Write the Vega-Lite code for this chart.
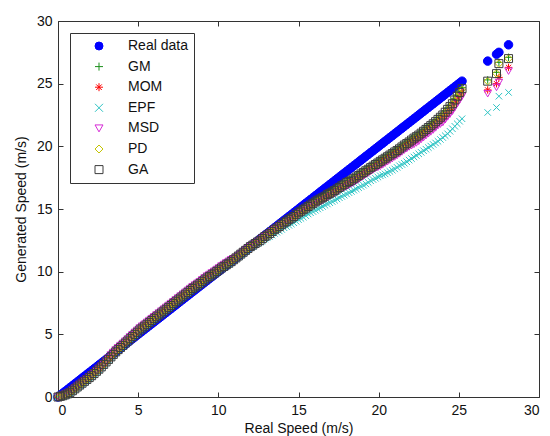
{
  "$schema": "https://vega.github.io/schema/vega-lite/v6.json",
  "width": 481,
  "height": 376,
  "autosize": {"type": "none"},
  "padding": {"left": 58, "top": 21, "right": 11, "bottom": 39},
  "background": "white",
  "config": {
    "view": {"stroke": "#333", "strokeWidth": 1},
    "font": "Liberation Sans",
    "axis": {"labelFont": "Liberation Sans", "titleFont": "Liberation Sans", "labelFontSize": 14, "titleFontSize": 14, "titleFontWeight": "normal", "labelColor": "#111", "titleColor": "#111", "tickColor": "#333", "grid": false, "domain": false},
    "legend": {"labelFont": "Liberation Sans", "labelFontSize": 14, "labelColor": "#111", "strokeColor": "#333", "fillColor": "white", "padding": 6, "rowPadding": 6.6, "symbolSize": 64, "symbolStrokeWidth": 1, "labelOffset": 22, "symbolOffset": 16, "orient": "none", "legendX": 12, "legendY": 12, "title": null}
  },
  "resolve": {"axis": {"x": "independent", "y": "independent"}},
  "layer": [
    {
      "data": {"values": [
        {"x":0,"Real data":0,"GM":0,"MOM":0,"EPF":0,"MSD":0,"PD":0,"GA":0},
        {"x":0.3,"Real data":0.3,"GM":0.15,"MOM":0.12,"EPF":0.05,"MSD":0.15,"PD":0.1,"GA":0.1},
        {"x":0.6,"Real data":0.6,"GM":0.3,"MOM":0.27,"EPF":0.2,"MSD":0.3,"PD":0.25,"GA":0.25},
        {"x":0.9,"Real data":0.9,"GM":0.55,"MOM":0.52,"EPF":0.45,"MSD":0.55,"PD":0.5,"GA":0.5},
        {"x":1.2,"Real data":1.2,"GM":0.85,"MOM":0.82,"EPF":0.75,"MSD":0.85,"PD":0.8,"GA":0.8},
        {"x":1.5,"Real data":1.5,"GM":1.15,"MOM":1.12,"EPF":1.05,"MSD":1.15,"PD":1.1,"GA":1.1},
        {"x":1.8,"Real data":1.8,"GM":1.45,"MOM":1.42,"EPF":1.35,"MSD":1.45,"PD":1.4,"GA":1.4},
        {"x":2.1,"Real data":2.1,"GM":1.75,"MOM":1.72,"EPF":1.65,"MSD":1.75,"PD":1.7,"GA":1.7},
        {"x":2.4,"Real data":2.4,"GM":2.1,"MOM":2.07,"EPF":2.0,"MSD":2.1,"PD":2.05,"GA":2.05},
        {"x":2.7,"Real data":2.7,"GM":2.45,"MOM":2.42,"EPF":2.35,"MSD":2.45,"PD":2.4,"GA":2.4},
        {"x":3.0,"Real data":3.0,"GM":2.85,"MOM":2.82,"EPF":2.75,"MSD":2.85,"PD":2.8,"GA":2.8},
        {"x":3.3,"Real data":3.3,"GM":3.25,"MOM":3.27,"EPF":3.15,"MSD":3.35,"PD":3.2,"GA":3.2},
        {"x":3.6,"Real data":3.6,"GM":3.65,"MOM":3.67,"EPF":3.55,"MSD":3.75,"PD":3.6,"GA":3.6},
        {"x":3.9,"Real data":3.9,"GM":4.0,"MOM":4.02,"EPF":3.9,"MSD":4.1,"PD":3.95,"GA":3.95},
        {"x":4.2,"Real data":4.2,"GM":4.35,"MOM":4.37,"EPF":4.25,"MSD":4.45,"PD":4.3,"GA":4.3},
        {"x":4.5,"Real data":4.5,"GM":4.7,"MOM":4.72,"EPF":4.6,"MSD":4.8,"PD":4.65,"GA":4.65},
        {"x":4.8,"Real data":4.8,"GM":5.05,"MOM":5.07,"EPF":4.95,"MSD":5.15,"PD":5.0,"GA":5.0},
        {"x":5.1,"Real data":5.1,"GM":5.4,"MOM":5.42,"EPF":5.3,"MSD":5.5,"PD":5.35,"GA":5.35},
        {"x":5.4,"Real data":5.4,"GM":5.7,"MOM":5.72,"EPF":5.6,"MSD":5.8,"PD":5.65,"GA":5.65},
        {"x":5.7,"Real data":5.7,"GM":6.0,"MOM":6.02,"EPF":5.9,"MSD":6.1,"PD":5.95,"GA":5.95},
        {"x":6.0,"Real data":6.0,"GM":6.3,"MOM":6.32,"EPF":6.2,"MSD":6.4,"PD":6.25,"GA":6.25},
        {"x":6.3,"Real data":6.3,"GM":6.6,"MOM":6.62,"EPF":6.5,"MSD":6.7,"PD":6.55,"GA":6.55},
        {"x":6.6,"Real data":6.6,"GM":6.9,"MOM":6.92,"EPF":6.8,"MSD":7.0,"PD":6.85,"GA":6.85},
        {"x":6.9,"Real data":6.9,"GM":7.2,"MOM":7.22,"EPF":7.1,"MSD":7.3,"PD":7.15,"GA":7.15},
        {"x":7.2,"Real data":7.2,"GM":7.5,"MOM":7.52,"EPF":7.4,"MSD":7.6,"PD":7.45,"GA":7.45},
        {"x":7.5,"Real data":7.5,"GM":7.8,"MOM":7.82,"EPF":7.7,"MSD":7.9,"PD":7.75,"GA":7.75},
        {"x":7.8,"Real data":7.8,"GM":8.1,"MOM":8.12,"EPF":8.0,"MSD":8.2,"PD":8.05,"GA":8.05},
        {"x":8.1,"Real data":8.1,"GM":8.4,"MOM":8.42,"EPF":8.3,"MSD":8.5,"PD":8.35,"GA":8.35},
        {"x":8.4,"Real data":8.4,"GM":8.7,"MOM":8.72,"EPF":8.6,"MSD":8.8,"PD":8.65,"GA":8.65},
        {"x":8.7,"Real data":8.7,"GM":8.97,"MOM":9.0,"EPF":8.87,"MSD":9.07,"PD":8.92,"GA":8.92},
        {"x":9.0,"Real data":9.0,"GM":9.25,"MOM":9.27,"EPF":9.15,"MSD":9.35,"PD":9.2,"GA":9.2},
        {"x":9.3,"Real data":9.3,"GM":9.55,"MOM":9.57,"EPF":9.45,"MSD":9.65,"PD":9.5,"GA":9.5},
        {"x":9.6,"Real data":9.6,"GM":9.8,"MOM":9.82,"EPF":9.7,"MSD":9.9,"PD":9.75,"GA":9.75},
        {"x":9.9,"Real data":9.9,"GM":10.07,"MOM":10.1,"EPF":9.97,"MSD":10.17,"PD":10.02,"GA":10.02},
        {"x":10.2,"Real data":10.2,"GM":10.35,"MOM":10.37,"EPF":10.25,"MSD":10.45,"PD":10.3,"GA":10.3},
        {"x":10.5,"Real data":10.5,"GM":10.6,"MOM":10.62,"EPF":10.5,"MSD":10.7,"PD":10.55,"GA":10.55},
        {"x":10.8,"Real data":10.8,"GM":10.85,"MOM":10.87,"EPF":10.75,"MSD":10.95,"PD":10.8,"GA":10.8},
        {"x":11.1,"Real data":11.1,"GM":11.15,"MOM":11.1,"EPF":11.05,"MSD":11.1,"PD":11.1,"GA":11.1},
        {"x":11.4,"Real data":11.4,"GM":11.45,"MOM":11.4,"EPF":11.35,"MSD":11.4,"PD":11.4,"GA":11.4},
        {"x":11.7,"Real data":11.7,"GM":11.75,"MOM":11.7,"EPF":11.65,"MSD":11.7,"PD":11.7,"GA":11.7},
        {"x":12.0,"Real data":12.0,"GM":12.05,"MOM":12.0,"EPF":11.9,"MSD":12.0,"PD":12.0,"GA":12.0},
        {"x":12.3,"Real data":12.3,"GM":12.3,"MOM":12.25,"EPF":12.15,"MSD":12.25,"PD":12.25,"GA":12.25},
        {"x":12.6,"Real data":12.6,"GM":12.55,"MOM":12.5,"EPF":12.35,"MSD":12.5,"PD":12.5,"GA":12.5},
        {"x":12.9,"Real data":12.9,"GM":12.85,"MOM":12.8,"EPF":12.6,"MSD":12.8,"PD":12.8,"GA":12.8},
        {"x":13.2,"Real data":13.2,"GM":13.1,"MOM":13.05,"EPF":12.8,"MSD":13.05,"PD":13.05,"GA":13.05},
        {"x":13.5,"Real data":13.5,"GM":13.4,"MOM":13.35,"EPF":13.05,"MSD":13.35,"PD":13.35,"GA":13.35},
        {"x":13.8,"Real data":13.8,"GM":13.65,"MOM":13.6,"EPF":13.25,"MSD":13.6,"PD":13.6,"GA":13.6},
        {"x":14.1,"Real data":14.1,"GM":13.95,"MOM":13.85,"EPF":13.5,"MSD":13.8,"PD":13.9,"GA":13.9},
        {"x":14.4,"Real data":14.4,"GM":14.2,"MOM":14.1,"EPF":13.7,"MSD":14.05,"PD":14.15,"GA":14.15},
        {"x":14.7,"Real data":14.7,"GM":14.45,"MOM":14.35,"EPF":13.9,"MSD":14.3,"PD":14.4,"GA":14.4},
        {"x":15.0,"Real data":15.0,"GM":14.8,"MOM":14.65,"EPF":14.15,"MSD":14.6,"PD":14.65,"GA":14.7},
        {"x":15.3,"Real data":15.3,"GM":15.05,"MOM":14.9,"EPF":14.35,"MSD":14.85,"PD":14.9,"GA":14.95},
        {"x":15.6,"Real data":15.6,"GM":15.3,"MOM":15.15,"EPF":14.6,"MSD":15.1,"PD":15.15,"GA":15.2},
        {"x":15.9,"Real data":15.9,"GM":15.55,"MOM":15.4,"EPF":14.8,"MSD":15.35,"PD":15.4,"GA":15.45},
        {"x":16.2,"Real data":16.2,"GM":15.8,"MOM":15.6,"EPF":15.0,"MSD":15.5,"PD":15.65,"GA":15.7},
        {"x":16.5,"Real data":16.5,"GM":16.0,"MOM":15.8,"EPF":15.2,"MSD":15.7,"PD":15.85,"GA":15.9},
        {"x":16.8,"Real data":16.8,"GM":16.25,"MOM":16.05,"EPF":15.4,"MSD":15.95,"PD":16.1,"GA":16.15},
        {"x":17.1,"Real data":17.1,"GM":16.45,"MOM":16.25,"EPF":15.6,"MSD":16.15,"PD":16.3,"GA":16.35},
        {"x":17.4,"Real data":17.4,"GM":16.7,"MOM":16.5,"EPF":15.8,"MSD":16.4,"PD":16.55,"GA":16.6},
        {"x":17.7,"Real data":17.7,"GM":16.95,"MOM":16.75,"EPF":16.0,"MSD":16.65,"PD":16.8,"GA":16.85},
        {"x":18.0,"Real data":18.0,"GM":17.2,"MOM":16.95,"EPF":16.2,"MSD":16.8,"PD":17.05,"GA":17.1},
        {"x":18.3,"Real data":18.3,"GM":17.4,"MOM":17.15,"EPF":16.4,"MSD":17.0,"PD":17.25,"GA":17.3},
        {"x":18.6,"Real data":18.6,"GM":17.65,"MOM":17.4,"EPF":16.6,"MSD":17.25,"PD":17.5,"GA":17.55},
        {"x":18.9,"Real data":18.9,"GM":17.9,"MOM":17.65,"EPF":16.8,"MSD":17.5,"PD":17.75,"GA":17.8},
        {"x":19.2,"Real data":19.2,"GM":18.15,"MOM":17.9,"EPF":17.0,"MSD":17.75,"PD":18.0,"GA":18.05},
        {"x":19.5,"Real data":19.5,"GM":18.4,"MOM":18.15,"EPF":17.25,"MSD":18.0,"PD":18.25,"GA":18.3},
        {"x":19.8,"Real data":19.8,"GM":18.65,"MOM":18.4,"EPF":17.45,"MSD":18.25,"PD":18.5,"GA":18.55},
        {"x":20.1,"Real data":20.1,"GM":18.9,"MOM":18.6,"EPF":17.65,"MSD":18.4,"PD":18.75,"GA":18.8},
        {"x":20.4,"Real data":20.4,"GM":19.15,"MOM":18.85,"EPF":17.8,"MSD":18.65,"PD":19.0,"GA":19.05},
        {"x":20.7,"Real data":20.7,"GM":19.4,"MOM":19.1,"EPF":18.0,"MSD":18.9,"PD":19.25,"GA":19.3},
        {"x":21.0,"Real data":21.0,"GM":19.65,"MOM":19.35,"EPF":18.2,"MSD":19.15,"PD":19.5,"GA":19.55},
        {"x":21.3,"Real data":21.3,"GM":19.9,"MOM":19.6,"EPF":18.45,"MSD":19.4,"PD":19.75,"GA":19.8},
        {"x":21.6,"Real data":21.6,"GM":20.2,"MOM":19.9,"EPF":18.65,"MSD":19.7,"PD":20.05,"GA":20.1},
        {"x":21.9,"Real data":21.9,"GM":20.45,"MOM":20.15,"EPF":18.9,"MSD":19.95,"PD":20.3,"GA":20.35},
        {"x":22.2,"Real data":22.2,"GM":20.75,"MOM":20.4,"EPF":19.15,"MSD":20.15,"PD":20.6,"GA":20.65},
        {"x":22.5,"Real data":22.5,"GM":21.0,"MOM":20.65,"EPF":19.4,"MSD":20.4,"PD":20.85,"GA":20.9},
        {"x":22.8,"Real data":22.8,"GM":21.3,"MOM":20.95,"EPF":19.65,"MSD":20.7,"PD":21.15,"GA":21.2},
        {"x":23.1,"Real data":23.1,"GM":21.6,"MOM":21.25,"EPF":19.9,"MSD":21.0,"PD":21.45,"GA":21.5},
        {"x":23.4,"Real data":23.4,"GM":21.9,"MOM":21.55,"EPF":20.15,"MSD":21.3,"PD":21.75,"GA":21.8},
        {"x":23.7,"Real data":23.7,"GM":22.25,"MOM":21.9,"EPF":20.4,"MSD":21.65,"PD":22.1,"GA":22.15},
        {"x":24.0,"Real data":24.0,"GM":22.6,"MOM":22.2,"EPF":20.7,"MSD":21.9,"PD":22.45,"GA":22.5},
        {"x":24.3,"Real data":24.3,"GM":23.05,"MOM":22.65,"EPF":21.0,"MSD":22.35,"PD":22.9,"GA":22.95},
        {"x":24.6,"Real data":24.6,"GM":23.5,"MOM":23.1,"EPF":21.4,"MSD":22.8,"PD":23.35,"GA":23.4},
        {"x":24.9,"Real data":24.9,"GM":24.1,"MOM":23.7,"EPF":21.8,"MSD":23.4,"PD":23.95,"GA":24.0},
        {"x":25.2,"Real data":25.2,"GM":24.7,"MOM":24.3,"EPF":22.2,"MSD":24.0,"PD":24.55,"GA":24.6},
        {"x":26.8,"Real data":26.8,"GM":25.3,"MOM":24.5,"EPF":22.7,"MSD":24.2,"PD":25.2,"GA":25.2},
        {"x":27.35,"Real data":27.35,"GM":25.9,"MOM":25.0,"EPF":23.1,"MSD":24.7,"PD":25.8,"GA":25.8},
        {"x":27.5,"Real data":27.5,"GM":26.7,"MOM":25.5,"EPF":24.0,"MSD":25.1,"PD":26.6,"GA":26.6},
        {"x":28.1,"Real data":28.1,"GM":27.1,"MOM":26.3,"EPF":24.3,"MSD":26.0,"PD":27.0,"GA":27.0},
        {"x":0.15,"Real data":0.15,"GM":0.07,"MOM":0.06,"EPF":0.02,"MSD":0.07,"PD":0.05,"GA":0.05},
        {"x":0.45,"Real data":0.45,"GM":0.22,"MOM":0.2,"EPF":0.12,"MSD":0.22,"PD":0.17,"GA":0.17},
        {"x":0.75,"Real data":0.75,"GM":0.42,"MOM":0.4,"EPF":0.32,"MSD":0.42,"PD":0.37,"GA":0.37},
        {"x":1.05,"Real data":1.05,"GM":0.7,"MOM":0.67,"EPF":0.6,"MSD":0.7,"PD":0.65,"GA":0.65},
        {"x":1.35,"Real data":1.35,"GM":1.0,"MOM":0.97,"EPF":0.9,"MSD":1.0,"PD":0.95,"GA":0.95},
        {"x":1.65,"Real data":1.65,"GM":1.3,"MOM":1.27,"EPF":1.2,"MSD":1.3,"PD":1.25,"GA":1.25},
        {"x":1.95,"Real data":1.95,"GM":1.6,"MOM":1.57,"EPF":1.5,"MSD":1.6,"PD":1.55,"GA":1.55},
        {"x":2.25,"Real data":2.25,"GM":1.92,"MOM":1.9,"EPF":1.82,"MSD":1.92,"PD":1.87,"GA":1.87},
        {"x":2.55,"Real data":2.55,"GM":2.27,"MOM":2.25,"EPF":2.17,"MSD":2.27,"PD":2.22,"GA":2.22},
        {"x":2.85,"Real data":2.85,"GM":2.65,"MOM":2.62,"EPF":2.55,"MSD":2.65,"PD":2.6,"GA":2.6},
        {"x":3.15,"Real data":3.15,"GM":3.05,"MOM":3.05,"EPF":2.95,"MSD":3.1,"PD":3.0,"GA":3.0},
        {"x":3.45,"Real data":3.45,"GM":3.45,"MOM":3.47,"EPF":3.35,"MSD":3.55,"PD":3.4,"GA":3.4},
        {"x":3.75,"Real data":3.75,"GM":3.83,"MOM":3.85,"EPF":3.73,"MSD":3.93,"PD":3.78,"GA":3.78},
        {"x":4.05,"Real data":4.05,"GM":4.17,"MOM":4.2,"EPF":4.07,"MSD":4.27,"PD":4.12,"GA":4.12},
        {"x":4.35,"Real data":4.35,"GM":4.52,"MOM":4.55,"EPF":4.42,"MSD":4.62,"PD":4.47,"GA":4.47},
        {"x":4.65,"Real data":4.65,"GM":4.87,"MOM":4.9,"EPF":4.77,"MSD":4.97,"PD":4.82,"GA":4.82},
        {"x":4.95,"Real data":4.95,"GM":5.22,"MOM":5.25,"EPF":5.12,"MSD":5.32,"PD":5.17,"GA":5.17},
        {"x":5.25,"Real data":5.25,"GM":5.55,"MOM":5.57,"EPF":5.45,"MSD":5.65,"PD":5.5,"GA":5.5},
        {"x":5.55,"Real data":5.55,"GM":5.85,"MOM":5.87,"EPF":5.75,"MSD":5.95,"PD":5.8,"GA":5.8},
        {"x":5.85,"Real data":5.85,"GM":6.15,"MOM":6.17,"EPF":6.05,"MSD":6.25,"PD":6.1,"GA":6.1},
        {"x":6.15,"Real data":6.15,"GM":6.45,"MOM":6.47,"EPF":6.35,"MSD":6.55,"PD":6.4,"GA":6.4},
        {"x":6.45,"Real data":6.45,"GM":6.75,"MOM":6.77,"EPF":6.65,"MSD":6.85,"PD":6.7,"GA":6.7},
        {"x":6.75,"Real data":6.75,"GM":7.05,"MOM":7.07,"EPF":6.95,"MSD":7.15,"PD":7.0,"GA":7.0},
        {"x":7.05,"Real data":7.05,"GM":7.35,"MOM":7.37,"EPF":7.25,"MSD":7.45,"PD":7.3,"GA":7.3},
        {"x":7.35,"Real data":7.35,"GM":7.65,"MOM":7.67,"EPF":7.55,"MSD":7.75,"PD":7.6,"GA":7.6},
        {"x":7.65,"Real data":7.65,"GM":7.95,"MOM":7.97,"EPF":7.85,"MSD":8.05,"PD":7.9,"GA":7.9},
        {"x":7.95,"Real data":7.95,"GM":8.25,"MOM":8.27,"EPF":8.15,"MSD":8.35,"PD":8.2,"GA":8.2},
        {"x":8.25,"Real data":8.25,"GM":8.55,"MOM":8.57,"EPF":8.45,"MSD":8.65,"PD":8.5,"GA":8.5},
        {"x":8.55,"Real data":8.55,"GM":8.83,"MOM":8.85,"EPF":8.73,"MSD":8.93,"PD":8.78,"GA":8.78},
        {"x":8.85,"Real data":8.85,"GM":9.1,"MOM":9.12,"EPF":9.0,"MSD":9.2,"PD":9.05,"GA":9.05},
        {"x":9.15,"Real data":9.15,"GM":9.4,"MOM":9.42,"EPF":9.3,"MSD":9.5,"PD":9.35,"GA":9.35},
        {"x":9.45,"Real data":9.45,"GM":9.67,"MOM":9.7,"EPF":9.57,"MSD":9.77,"PD":9.62,"GA":9.62},
        {"x":9.75,"Real data":9.75,"GM":9.93,"MOM":9.95,"EPF":9.83,"MSD":10.03,"PD":9.88,"GA":9.88},
        {"x":10.05,"Real data":10.05,"GM":10.2,"MOM":10.22,"EPF":10.1,"MSD":10.3,"PD":10.15,"GA":10.15},
        {"x":10.35,"Real data":10.35,"GM":10.47,"MOM":10.5,"EPF":10.37,"MSD":10.57,"PD":10.42,"GA":10.42},
        {"x":10.65,"Real data":10.65,"GM":10.72,"MOM":10.75,"EPF":10.62,"MSD":10.82,"PD":10.67,"GA":10.67},
        {"x":10.95,"Real data":10.95,"GM":11.0,"MOM":10.98,"EPF":10.9,"MSD":11.02,"PD":10.95,"GA":10.95},
        {"x":11.25,"Real data":11.25,"GM":11.3,"MOM":11.25,"EPF":11.2,"MSD":11.25,"PD":11.25,"GA":11.25},
        {"x":11.55,"Real data":11.55,"GM":11.6,"MOM":11.55,"EPF":11.5,"MSD":11.55,"PD":11.55,"GA":11.55},
        {"x":11.85,"Real data":11.85,"GM":11.9,"MOM":11.85,"EPF":11.78,"MSD":11.85,"PD":11.85,"GA":11.85},
        {"x":12.15,"Real data":12.15,"GM":12.17,"MOM":12.12,"EPF":12.02,"MSD":12.12,"PD":12.12,"GA":12.12},
        {"x":12.45,"Real data":12.45,"GM":12.42,"MOM":12.37,"EPF":12.25,"MSD":12.37,"PD":12.37,"GA":12.37},
        {"x":12.75,"Real data":12.75,"GM":12.7,"MOM":12.65,"EPF":12.47,"MSD":12.65,"PD":12.65,"GA":12.65},
        {"x":13.05,"Real data":13.05,"GM":12.97,"MOM":12.92,"EPF":12.7,"MSD":12.92,"PD":12.92,"GA":12.92},
        {"x":13.35,"Real data":13.35,"GM":13.25,"MOM":13.2,"EPF":12.92,"MSD":13.2,"PD":13.2,"GA":13.2},
        {"x":13.65,"Real data":13.65,"GM":13.52,"MOM":13.47,"EPF":13.15,"MSD":13.47,"PD":13.47,"GA":13.47},
        {"x":13.95,"Real data":13.95,"GM":13.8,"MOM":13.72,"EPF":13.37,"MSD":13.7,"PD":13.75,"GA":13.75},
        {"x":14.25,"Real data":14.25,"GM":14.07,"MOM":13.97,"EPF":13.6,"MSD":13.92,"PD":14.02,"GA":14.02},
        {"x":14.55,"Real data":14.55,"GM":14.32,"MOM":14.22,"EPF":13.8,"MSD":14.17,"PD":14.27,"GA":14.27},
        {"x":14.85,"Real data":14.85,"GM":14.62,"MOM":14.5,"EPF":14.02,"MSD":14.45,"PD":14.52,"GA":14.55},
        {"x":15.15,"Real data":15.15,"GM":14.92,"MOM":14.77,"EPF":14.25,"MSD":14.72,"PD":14.77,"GA":14.82},
        {"x":15.45,"Real data":15.45,"GM":15.17,"MOM":15.02,"EPF":14.47,"MSD":14.97,"PD":15.02,"GA":15.07},
        {"x":15.75,"Real data":15.75,"GM":15.42,"MOM":15.27,"EPF":14.7,"MSD":15.22,"PD":15.27,"GA":15.32},
        {"x":16.05,"Real data":16.05,"GM":15.67,"MOM":15.5,"EPF":14.9,"MSD":15.42,"PD":15.52,"GA":15.57},
        {"x":16.35,"Real data":16.35,"GM":15.9,"MOM":15.7,"EPF":15.1,"MSD":15.6,"PD":15.75,"GA":15.8},
        {"x":16.65,"Real data":16.65,"GM":16.12,"MOM":15.92,"EPF":15.3,"MSD":15.82,"PD":15.97,"GA":16.02},
        {"x":16.95,"Real data":16.95,"GM":16.35,"MOM":16.15,"EPF":15.5,"MSD":16.05,"PD":16.2,"GA":16.25},
        {"x":17.25,"Real data":17.25,"GM":16.57,"MOM":16.37,"EPF":15.7,"MSD":16.27,"PD":16.42,"GA":16.47},
        {"x":17.55,"Real data":17.55,"GM":16.82,"MOM":16.62,"EPF":15.9,"MSD":16.52,"PD":16.67,"GA":16.72},
        {"x":17.85,"Real data":17.85,"GM":17.07,"MOM":16.85,"EPF":16.1,"MSD":16.72,"PD":16.92,"GA":16.97},
        {"x":18.15,"Real data":18.15,"GM":17.3,"MOM":17.05,"EPF":16.3,"MSD":16.9,"PD":17.15,"GA":17.2},
        {"x":18.45,"Real data":18.45,"GM":17.52,"MOM":17.27,"EPF":16.5,"MSD":17.12,"PD":17.37,"GA":17.42},
        {"x":18.75,"Real data":18.75,"GM":17.77,"MOM":17.52,"EPF":16.7,"MSD":17.37,"PD":17.62,"GA":17.67},
        {"x":19.05,"Real data":19.05,"GM":18.02,"MOM":17.77,"EPF":16.9,"MSD":17.62,"PD":17.87,"GA":17.92},
        {"x":19.35,"Real data":19.35,"GM":18.27,"MOM":18.02,"EPF":17.12,"MSD":17.87,"PD":18.12,"GA":18.17},
        {"x":19.65,"Real data":19.65,"GM":18.52,"MOM":18.27,"EPF":17.35,"MSD":18.12,"PD":18.37,"GA":18.42},
        {"x":19.95,"Real data":19.95,"GM":18.77,"MOM":18.5,"EPF":17.55,"MSD":18.32,"PD":18.62,"GA":18.67},
        {"x":20.25,"Real data":20.25,"GM":19.02,"MOM":18.72,"EPF":17.72,"MSD":18.52,"PD":18.87,"GA":18.92},
        {"x":20.55,"Real data":20.55,"GM":19.27,"MOM":18.97,"EPF":17.9,"MSD":18.77,"PD":19.12,"GA":19.17},
        {"x":20.85,"Real data":20.85,"GM":19.52,"MOM":19.22,"EPF":18.1,"MSD":19.02,"PD":19.37,"GA":19.42},
        {"x":21.15,"Real data":21.15,"GM":19.77,"MOM":19.47,"EPF":18.32,"MSD":19.27,"PD":19.62,"GA":19.67},
        {"x":21.45,"Real data":21.45,"GM":20.05,"MOM":19.75,"EPF":18.55,"MSD":19.55,"PD":19.9,"GA":19.95},
        {"x":21.75,"Real data":21.75,"GM":20.32,"MOM":20.02,"EPF":18.77,"MSD":19.82,"PD":20.17,"GA":20.22},
        {"x":22.05,"Real data":22.05,"GM":20.6,"MOM":20.27,"EPF":19.02,"MSD":20.05,"PD":20.45,"GA":20.5},
        {"x":22.35,"Real data":22.35,"GM":20.87,"MOM":20.52,"EPF":19.27,"MSD":20.27,"PD":20.72,"GA":20.77},
        {"x":22.65,"Real data":22.65,"GM":21.15,"MOM":20.8,"EPF":19.52,"MSD":20.55,"PD":21.0,"GA":21.05},
        {"x":22.95,"Real data":22.95,"GM":21.45,"MOM":21.1,"EPF":19.77,"MSD":20.85,"PD":21.3,"GA":21.35},
        {"x":23.25,"Real data":23.25,"GM":21.75,"MOM":21.4,"EPF":20.02,"MSD":21.15,"PD":21.6,"GA":21.65},
        {"x":23.55,"Real data":23.55,"GM":22.07,"MOM":21.72,"EPF":20.27,"MSD":21.47,"PD":21.92,"GA":21.97},
        {"x":23.85,"Real data":23.85,"GM":22.42,"MOM":22.05,"EPF":20.55,"MSD":21.77,"PD":22.27,"GA":22.32},
        {"x":24.15,"Real data":24.15,"GM":22.82,"MOM":22.42,"EPF":20.85,"MSD":22.12,"PD":22.67,"GA":22.72},
        {"x":24.45,"Real data":24.45,"GM":23.27,"MOM":22.87,"EPF":21.2,"MSD":22.57,"PD":23.12,"GA":23.17},
        {"x":24.75,"Real data":24.75,"GM":23.8,"MOM":23.4,"EPF":21.6,"MSD":23.1,"PD":23.65,"GA":23.7},
        {"x":25.05,"Real data":25.05,"GM":24.4,"MOM":24.0,"EPF":22.0,"MSD":23.7,"PD":24.25,"GA":24.3}
      ]},
      "encoding": {
        "x": {"field": "x", "type": "quantitative", "scale": {"domain": [0, 30], "nice": false}, "axis": {"title": "Real Speed (m/s)", "values": [0,5,10,15,20,25,30], "tickSize": -5, "labelPadding": 11, "titlePadding": 4}},
        "y": {"field": "v", "type": "quantitative", "scale": {"domain": [0, 30], "nice": false}, "axis": {"title": "Generated Speed (m/s)", "values": [0,5,10,15,20,25,30], "tickSize": -5, "labelPadding": 11, "titlePadding": 8}},
        "shape": {"field": "series", "type": "nominal", "scale": {"domain": ["Real data","GM","MOM","EPF","MSD","PD","GA"], "range": ["circle", "M-1,0H1M0,-1V1", "M-1,0H1M0,-1V1M-0.7,-0.7L0.7,0.7M-0.7,0.7L0.7,-0.7", "M-1,-1L1,1M-1,1L1,-1", "triangle-down", "diamond", "square"]}},
        "stroke": {"field": "series", "type": "nominal", "scale": {"domain": ["Real data","GM","MOM","EPF","MSD","PD","GA"], "range": ["#0000ff", "#1a8f1a", "#ff0000", "#2ec4c4", "#d62ad6", "#c4c400", "#3c3c3c"]}},
        "fill": {"field": "series", "type": "nominal", "scale": {"domain": ["Real data","GM","MOM","EPF","MSD","PD","GA"], "range": ["#0000ff", "transparent", "transparent", "transparent", "transparent", "transparent", "transparent"]}}
      },
      "layer": [
        {"transform": [{"fold": ["Real data"], "as": ["series", "v"]}], "mark": {"type": "point", "opacity": 1, "strokeWidth": 1, "size": 72}},
        {"transform": [{"fold": ["GM"], "as": ["series", "v"]}], "mark": {"type": "point", "opacity": 1, "strokeWidth": 1, "size": 56}},
        {"transform": [{"fold": ["MOM"], "as": ["series", "v"]}], "mark": {"type": "point", "opacity": 1, "strokeWidth": 1, "size": 56}},
        {"transform": [{"fold": ["EPF"], "as": ["series", "v"]}], "mark": {"type": "point", "opacity": 1, "strokeWidth": 1, "size": 42}},
        {"transform": [{"fold": ["MSD"], "as": ["series", "v"]}], "mark": {"type": "point", "opacity": 1, "strokeWidth": 1, "size": 56}},
        {"transform": [{"fold": ["PD"], "as": ["series", "v"]}], "mark": {"type": "point", "opacity": 1, "strokeWidth": 1, "size": 56}},
        {"transform": [{"fold": ["GA"], "as": ["series", "v"]}], "mark": {"type": "point", "opacity": 1, "strokeWidth": 1, "size": 64}}
      ]
    },
    {
      "data": {"values": [{"x": 0, "v": 0}]},
      "mark": {"type": "point", "opacity": 0},
      "encoding": {
        "x": {"field": "x", "type": "quantitative", "axis": {"orient": "top", "title": null, "labels": false, "values": [0,5,10,15,20,25,30], "tickSize": -5}},
        "y": {"field": "v", "type": "quantitative", "axis": {"orient": "right", "title": null, "labels": false, "values": [0,5,10,15,20,25,30], "tickSize": -5}}
      }
    }
  ]
}
